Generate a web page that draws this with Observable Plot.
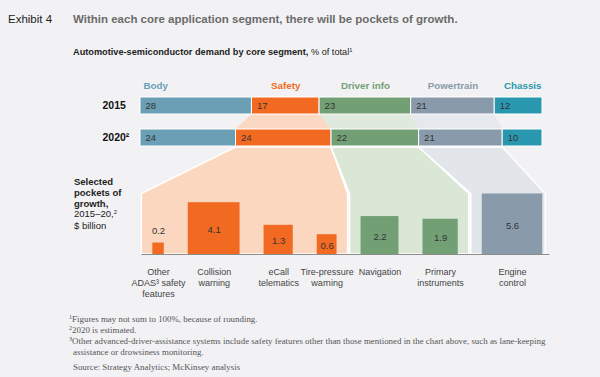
<!DOCTYPE html>
<html><head><meta charset="utf-8">
<script src="https://cdn.jsdelivr.net/npm/d3@7"></script>
<script src="https://cdn.jsdelivr.net/npm/@observablehq/plot@0.6"></script>
<style>
html,body{margin:0;padding:0;background:#f2f2f4;}
#chart{position:relative;width:600px;height:377px;overflow:hidden;font-family:"Liberation Sans",Arial,sans-serif;background:#f2f2f4;}
.abs{position:absolute;white-space:nowrap;}
sup{font-size:62%;vertical-align:0;position:relative;top:-0.55em;}
#foot{font-family:"Liberation Serif","Times New Roman",serif;font-size:8.9px;color:#555;line-height:11.1px;}
#foot sup{font-size:70%;top:-0.5em;}
svg{position:absolute;left:0;}
</style></head><body>
<div id="chart">
  <div class="abs" style="left:8px;top:13px;font-size:11.5px;color:#222">Exhibit 4</div>
  <div class="abs" style="left:73px;top:13px;font-size:11.5px;font-weight:bold;color:#6b6b6b">Within each core application segment, there will be pockets of growth.</div>
  <div class="abs" style="left:73px;top:47px;font-size:9.2px;color:#222"><b>Automotive-semiconductor demand by core segment,</b> % of total<sup>1</sup></div>
  <div class="abs" style="left:74px;top:177px;font-size:9.5px;line-height:10.8px;color:#222"><b>Selected<br>pockets of<br>growth,</b><br>2015–20,<sup>2</sup><br>$ billion</div>
  <div class="abs" id="foot" style="left:69px;top:314px">
    <div><sup>1</sup>Figures may not sum to 100%, because of rounding.</div>
    <div><sup>2</sup>2020 is estimated.</div>
    <div><sup>3</sup>Other advanced-driver-assistance systems include safety features other than those mentioned in the chart above, such as lane-keeping</div>
    <div style="padding-left:4px">assistance or drowsiness monitoring.</div>
    <div style="padding-left:4px;margin-top:3.5px">Source: Strategy Analytics; McKinsey analysis</div>
  </div>
</div>
<script>
// ---- data ----
const segments = ["Body", "Safety", "Driver info", "Powertrain", "Chassis"];
const years = ["2015", "2020"];
const yearLabels = ["2015", "2020²"];
const share2015 = [28, 17, 23, 21, 12];
const share2020 = [24, 24, 22, 21, 10];
const segColors = ["#6a9fb6", "#f26a21", "#72a074", "#899bab", "#2997ae"];
const connectorColors = [null, "#fbd8c3", "#dfe9dc", "#e5e8ec", null];
const funnelColors = {"Safety": "#fcd7bf", "Driver info": "#dae7d6", "Powertrain": "#e2e6ea"};

const growthItems = ["Other\nADAS³ safety\nfeatures", "Collision\nwarning", "eCall\ntelematics", "Tire-pressure\nwarning", "Navigation", "Primary\ninstruments", "Engine\ncontrol"];
const growthSegment = ["Safety", "Safety", "Safety", "Safety", "Driver info", "Driver info", "Powertrain"];
const growthValues = [0.2, 4.1, 1.3, 0.6, 2.2, 1.9, 5.6];

// ---- layout constants ----
const W = 600, ML = 140, MR = 58, TOTAL = 101;
const chart = document.getElementById("chart");

const shareRows = years.flatMap((yr, j) => segments.map((s, i) => ({year: yr, segment: s, value: (j ? share2020 : share2015)[i]})));
const cum = arr => { let s = 0; return arr.map(v => [s, s += v]); };
const ext15 = cum(share2015), ext20 = cum(share2020);

function connectors(index, scales) {
  const x = scales.x, y = scales.y;
  const bw = typeof y.bandwidth === "function" ? y.bandwidth() : y.bandwidth;
  const g = d3.create("svg:g");
  segments.forEach((s, i) => {
    if (!connectorColors[i]) return;
    const y0 = y(years[0]) + bw, y1 = y(years[1]);
    const pts = [[x(ext15[i][0]), y0], [x(ext15[i][1]), y0], [x(ext20[i][1]), y1], [x(ext20[i][0]), y1]];
    g.append("path").attr("d", "M" + pts.join("L") + "Z").attr("fill", connectorColors[i]);
  });
  return g.node();
}

const headers = segments.map((s, i) => ({segment: s, year: years[0], i, start: ext15[i][0], mid: (ext15[i][0] + ext15[i][1]) / 2, end: ext15[i][1]}));
const last = segments.length - 1;

const topPlot = Plot.plot({
  width: W, height: 71, marginTop: 20, marginBottom: 0, marginLeft: ML, marginRight: MR,
  style: {background: "transparent", overflow: "visible", fontFamily: "Liberation Sans, Arial, sans-serif"},
  x: {domain: [0, TOTAL], axis: null},
  y: {type: "band", domain: years, paddingInner: 0.4545, paddingOuter: 0, axis: null},
  color: {domain: segments, range: segColors},
  marks: [
    connectors,
    Plot.barX(shareRows, {x: "value", y: "year", fill: "segment", stroke: "#fff", strokeWidth: 1}),
    Plot.text(shareRows, Plot.stackX1({x: "value", y: "year", text: "value", textAnchor: "start", dx: 5, fill: "#333", fontSize: 9.5})),
    Plot.text(years, {y: d => d, frameAnchor: "left", dx: -38, textAnchor: "start", text: (d, i) => yearLabels[i], fontWeight: "bold", fontSize: 10.5, fill: "#111"}),
    Plot.text(headers.filter(d => d.i === 0), {x: "start", y: "year", dy: -20, dx: 3, text: "segment", fill: "segment", textAnchor: "start", fontWeight: "bold", fontSize: 9.8}),
    Plot.text(headers.filter(d => d.i > 0 && d.i < last), {x: "mid", y: "year", dy: -20, text: "segment", fill: "segment", textAnchor: "middle", fontWeight: "bold", fontSize: 9.8}),
    Plot.text(headers.filter(d => d.i === last), {x: "end", y: "year", dy: -20, dx: -1, text: "segment", fill: "segment", textAnchor: "end", fontWeight: "bold", fontSize: 9.8})
  ]
});
topPlot.style.top = "76px";
chart.appendChild(topPlot);

// ---- lower chart: squares with area proportional to value ----
const BH = 158, BMB = 51, innerH = BH - BMB;
const yTopGrowth = 17.5;
const pxPerUnit = (W - ML - MR) / TOTAL;
const K = innerH / Math.sqrt(yTopGrowth);
const gap = 24 / pxPerUnit, startX = 3.1;
let cursor = startX;
const items = growthItems.map((name, i) => {
  const side = K * Math.sqrt(growthValues[i]) / pxPerUnit;
  const x1 = cursor, x2 = cursor + side;
  cursor = x2 + gap;
  return {name, segment: growthSegment[i], value: growthValues[i], x1, x2, xc: (x1 + x2) / 2};
});
const groups = ["Safety", "Driver info", "Powertrain"];
const maxV = d3.max(growthValues);
const funnelPts = groups.flatMap((g, gi) => {
  const its = items.filter(d => d.segment === g);
  const si = segments.indexOf(g);
  const L = d3.min(its, d => d.x1) - (gap / 2 - 1 / pxPerUnit);
  const R = gi === groups.length - 1 ? d3.max(its, d => d.x2) + 3 / pxPerUnit : d3.max(its, d => d.x2) + (gap / 2 - 1 / pxPerUnit);
  return [
    {segment: g, y: 0, x1: L, x2: R},
    {segment: g, y: maxV, x1: L, x2: R},
    {segment: g, y: yTopGrowth, x1: ext20[si][0], x2: ext20[si][1]}
  ];
});
const fmt = d3.format(".1f");
const baseL = d3.min(funnelPts, d => d.x1), baseR = d3.max(funnelPts.filter(d => d.y === 0), d => d.x2) + 4 / pxPerUnit;

const bottomPlot = Plot.plot({
  width: W, height: BH, marginTop: 0, marginBottom: BMB, marginLeft: ML, marginRight: MR,
  style: {background: "transparent", overflow: "visible", fontFamily: "Liberation Sans, Arial, sans-serif"},
  x: {domain: [0, TOTAL], axis: null},
  y: {type: "sqrt", domain: [0, yTopGrowth], axis: null},
  color: {domain: segments, range: segColors},
  marks: [
    ...groups.map(g => Plot.areaX(funnelPts.filter(d => d.segment === g), {y: "y", x1: "x1", x2: "x2", fill: funnelColors[g], stroke: "#fff", strokeWidth: 1.5})),
    Plot.ruleY([0], {x1: baseL, x2: baseR, stroke: "#8c8c8c", strokeWidth: 1}),
    Plot.rect(items, {x1: "x1", x2: "x2", y1: 0, y2: "value", fill: "segment"}),
    Plot.text(items.filter(d => d.value >= 0.5), {x: "xc", y: d => d.value / 4, text: d => fmt(d.value), fill: "#333", fontSize: 9.5, dy: 1.5}),
    Plot.text(items.filter(d => d.value < 0.5), {x: "xc", y: "value", text: d => fmt(d.value), fill: "#333", fontSize: 9.5, dy: -12}),
    Plot.text(items, {x: "xc", y: 0, text: "name", lineAnchor: "top", dy: 12, fill: "#444", fontSize: 9, lineHeight: 1.25})
  ]
});
bottomPlot.style.top = "147px";
chart.appendChild(bottomPlot);
</script>
</body></html>
